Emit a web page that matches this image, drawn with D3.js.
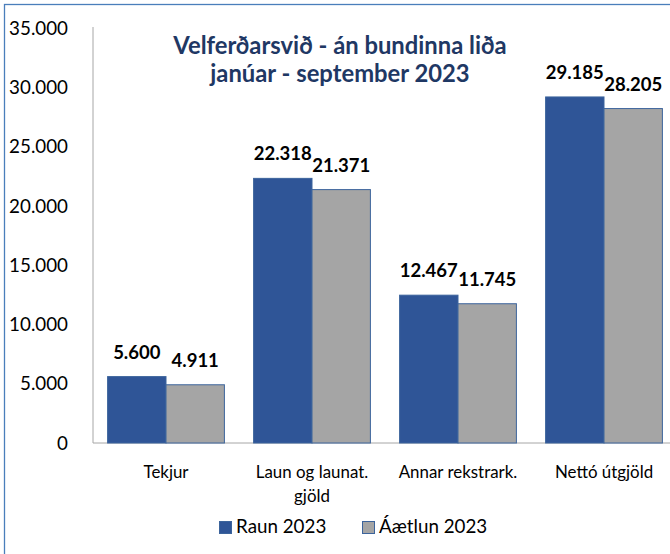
<!DOCTYPE html>
<html><head><meta charset="utf-8">
<script src="https://cdn.jsdelivr.net/npm/d3@7"></script>
<style>body{margin:0;background:#fff}svg{display:block}</style>
</head><body>
<svg id="c" width="670" height="554"></svg>
<script>
const categories = [["Tekjur"], ["Laun og launat.", "gjöld"], ["Annar rekstrark."], ["Nettó útgjöld"]];
const seriesNames = ["Raun 2023", "Áætlun 2023"];
const raun = [5600, 22318, 12467, 29185];
const aaetlun = [4911, 21371, 11745, 28205];
const yTicks = [0, 5000, 10000, 15000, 20000, 25000, 30000, 35000];
const titleLines = ["Velferðarsvið - án bundinna liða", "janúar - september 2023"];

const colors = ["#2F5597", "#A5A5A5"];
const font = "Lato, 'Open Sans', sans-serif";
const svg = d3.select("#c");
const fmt = v => d3.format(",")(v).replace(/,/g, ".");

svg.append("rect").attr("x", 4.5).attr("y", 4.5).attr("width", 700).attr("height", 600)
  .attr("fill", "#fff").attr("stroke", "#4A7EBB").attr("stroke-width", 1.3);

const x0 = 93, x1 = 677, yTop = 28, yBot = 443;
const x = d3.scaleBand().domain(d3.range(categories.length)).range([x0, x1]).paddingInner(0.2).paddingOuter(0.1);
const y = d3.scaleLinear().domain([0, 35000]).range([yBot, yTop]);
const xs = d3.scaleBand().domain([0, 1]).range([0, x.bandwidth()]);

// axes
svg.append("line").attr("x1", x0).attr("x2", x0).attr("y1", yTop - 1).attr("y2", yBot).attr("stroke", "#A6A6A6");
svg.append("line").attr("x1", x0).attr("x2", 670).attr("y1", yBot).attr("y2", yBot).attr("stroke", "#A6A6A6");

svg.append("g").selectAll("text").data(yTicks).join("text")
  .attr("x", 68).attr("y", d => y(d)).attr("dy", "0.36em").attr("text-anchor", "end")
  .attr("font-family", font).attr("font-size", 18.8).attr("fill", "#000").text(fmt);

const data = [raun, aaetlun];
const g = svg.append("g");
data.forEach((vals, s) => {
  g.selectAll(null).data(vals).join("rect")
    .attr("x", (d, i) => x(i) + xs(s)).attr("width", xs.bandwidth())
    .attr("y", d => y(d)).attr("height", d => yBot - y(d))
    .attr("fill", colors[s]).attr("stroke", "#3C649C").attr("stroke-width", 1);
  g.selectAll(null).data(vals).join("text")
    .attr("x", (d, i) => x(i) + xs(s) + xs.bandwidth() / 2).attr("y", d => y(d) - 18)
    .attr("text-anchor", "middle").attr("font-family", font).attr("font-weight", "bold")
    .attr("font-size", 18.5).attr("fill", "#000").text(fmt);
});

// category labels
categories.forEach((lines, i) => {
  const cx = x(i) + x.bandwidth() / 2;
  const t = svg.append("text").attr("y", 477.5)
    .attr("text-anchor", "middle").attr("font-family", font).attr("font-size", 16.9).attr("fill", "#000");
  lines.forEach((l, k) => t.append("tspan").attr("x", cx).attr("dy", k ? 24.5 : 0).text(l));
});

// title
titleLines.forEach((l, k) => {
  svg.append("text").attr("x", 340).attr("y", 54 + k * 27.5).attr("text-anchor", "middle")
    .attr("font-family", font).attr("font-weight", "bold").attr("font-size", 23.8).attr("fill", "#1F3864").text(l);
});

// legend
const legX = [219, 362];
seriesNames.forEach((n, s) => {
  svg.append("rect").attr("x", legX[s] + 0.5).attr("y", 521.5).attr("width", 12).attr("height", 12)
    .attr("fill", colors[s]).attr("stroke", "#3C649C");
  svg.append("text").attr("x", legX[s] + 17).attr("y", 533)
    .attr("font-family", font).attr("font-size", 18.8).attr("fill", "#000").text(n);
});
</script>
</body></html>
